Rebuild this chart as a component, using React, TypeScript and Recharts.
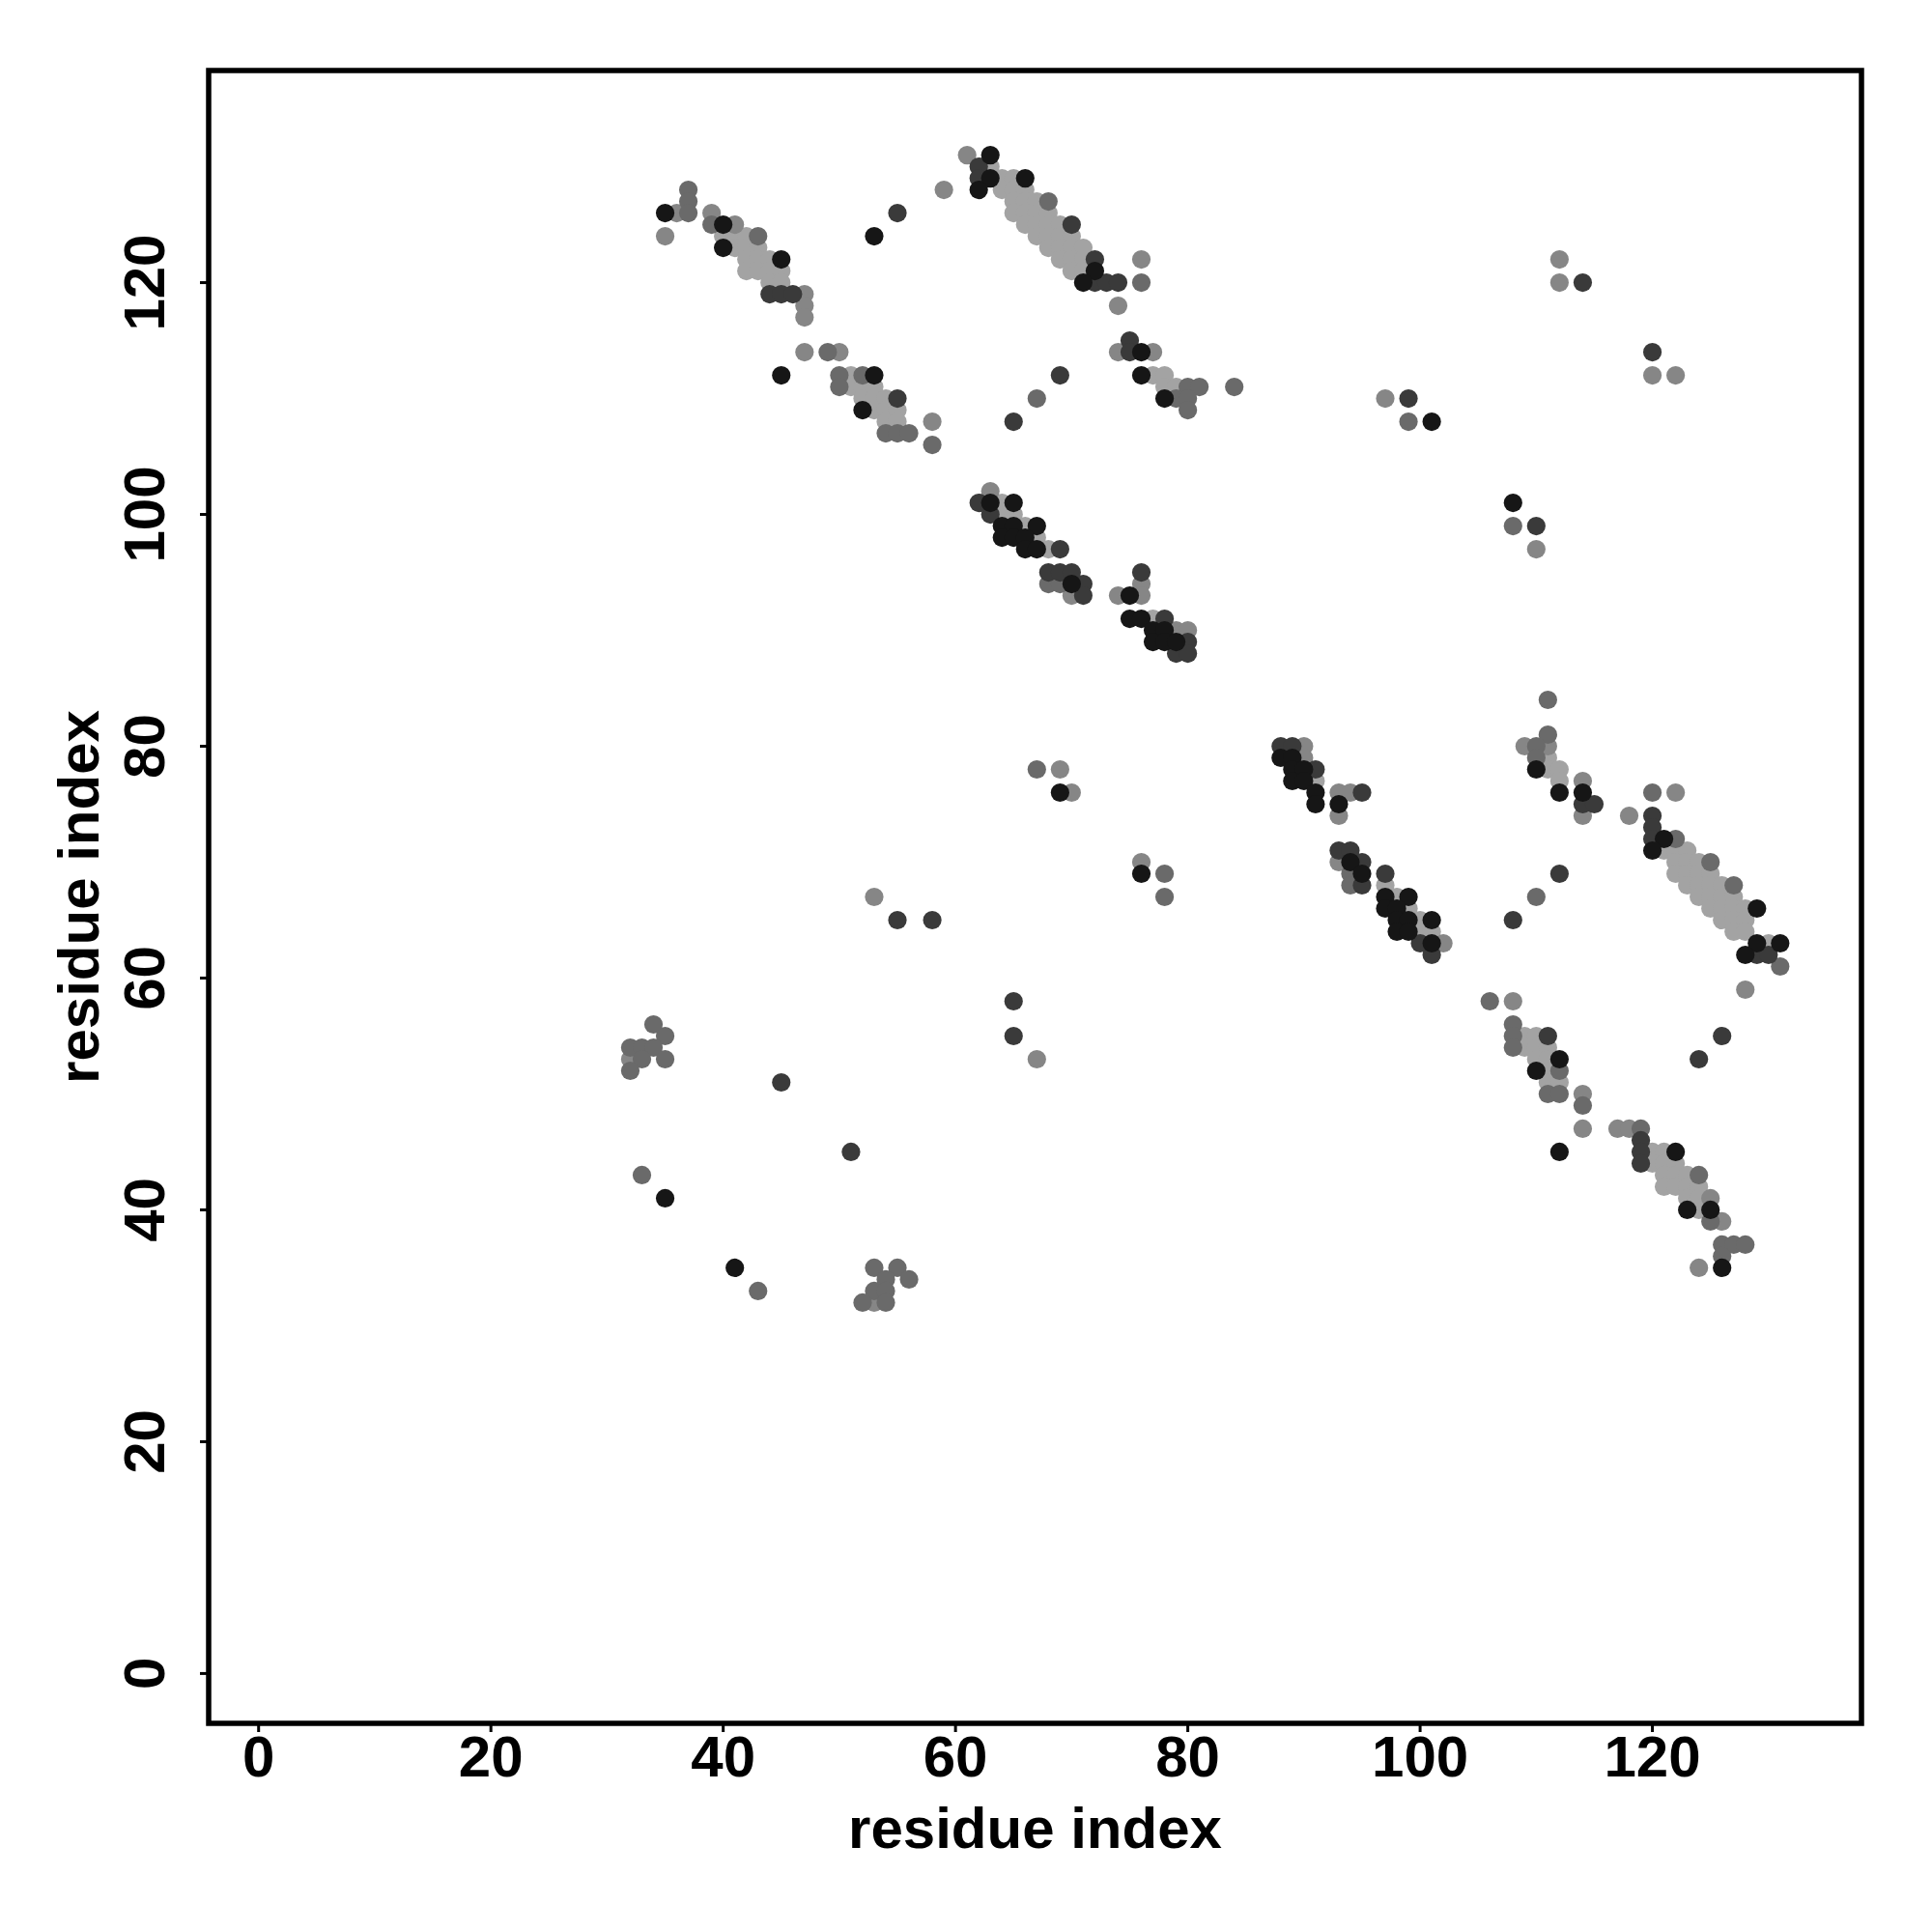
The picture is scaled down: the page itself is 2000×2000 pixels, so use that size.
import { ScatterChart, Scatter, XAxis, YAxis, Label, ReferenceArea } from 'recharts';

// contact pairs (residue i, residue j), grouped by the grey shade used in the plot
const palePairs: [number, number][] = [
  [40, 124], [41, 124], [42, 124], [41, 123], [42, 123], [43, 123], [42, 122], [43, 122], [44, 122],
  [42, 121], [43, 121], [44, 121], [45, 121], [44, 120], [45, 120],
  [51, 112], [51, 111], [52, 111], [53, 111], [52, 110], [53, 110], [54, 110], [53, 109], [54, 109],
  [55, 109], [54, 108], [55, 108],
  [63, 130], [64, 129], [65, 129], [64, 128], [65, 128], [66, 128], [65, 127], [66, 127], [67, 127],
  [65, 126], [66, 126], [67, 126], [68, 126], [66, 125], [67, 125], [68, 125], [69, 125],
  [67, 124], [68, 124], [69, 124], [70, 124], [68, 123], [69, 123], [70, 123], [71, 123],
  [69, 122], [70, 122], [71, 122], [70, 121], [71, 121],
  [77, 112], [78, 112], [78, 111], [79, 111],
  [64, 101], [64, 100], [65, 100], [66, 99], [67, 98], [68, 97], [77, 91],
  [91, 77], [97, 68], [98, 67], [99, 66], [100, 65], [100, 64], [101, 64],
  [111, 79], [111, 78], [112, 78], [112, 77],
  [121, 71], [122, 71], [123, 71], [122, 70], [123, 70], [124, 70], [122, 69], [123, 69], [124, 69],
  [125, 69], [123, 68], [124, 68], [125, 68], [126, 68], [124, 67], [125, 67], [126, 67], [127, 67],
  [125, 66], [126, 66], [127, 66], [128, 66], [126, 65], [127, 65], [128, 65], [127, 64], [128, 64],
  [130, 63],
  [109, 55], [110, 55], [109, 54], [110, 54], [111, 54], [110, 53], [111, 53], [111, 52], [111, 51],
  [112, 51],
  [120, 45], [121, 45], [120, 44], [121, 44], [122, 44], [121, 43], [122, 43], [123, 43],
  [121, 42], [122, 42], [123, 42], [124, 42], [123, 41], [124, 41], [124, 40],
];

const lightPairs: [number, number][] = [
  [61, 131], [59, 128], [36, 126], [35, 124], [39, 126], [41, 125], [47, 119], [47, 118], [47, 117],
  [47, 114], [50, 114], [58, 108],
  [76, 122], [74, 118], [74, 114], [77, 114],
  [63, 102], [70, 93], [76, 94], [76, 93], [74, 93], [79, 90], [80, 90],
  [90, 80], [90, 79], [93, 76], [94, 76], [93, 74], [93, 70], [102, 63],
  [109, 80], [111, 80], [114, 77], [114, 74], [122, 76], [118, 74], [128, 59], [108, 58],
  [114, 50], [114, 47], [117, 47], [118, 47], [125, 41], [126, 39], [124, 35],
  [53, 67], [32, 53], [53, 32],
  [112, 122], [112, 120], [120, 112], [122, 112], [97, 110], [110, 97],
  [69, 78], [70, 76], [76, 70], [67, 53],
];

const midPairs: [number, number][] = [
  [37, 128], [37, 127], [37, 126], [39, 125], [43, 124], [49, 114], [50, 112], [50, 111], [52, 112],
  [54, 107], [55, 107], [56, 107], [58, 106],
  [68, 127], [76, 120], [67, 110], [80, 111], [81, 111], [84, 111], [79, 110], [80, 110], [80, 109],
  [68, 94], [69, 94], [94, 69], [94, 68],
  [111, 84], [111, 81], [110, 80], [110, 79], [120, 76], [122, 72], [125, 70], [127, 68], [131, 61],
  [110, 67], [106, 58],
  [108, 56], [108, 55], [108, 54], [112, 52], [111, 50], [112, 50], [114, 49], [119, 47], [124, 43],
  [125, 39], [126, 37], [127, 37], [128, 37], [126, 36],
  [34, 56], [35, 55], [32, 54], [33, 54], [34, 54], [33, 53], [35, 53], [32, 52], [33, 43], [43, 33],
  [53, 35], [55, 35], [56, 34], [54, 34], [53, 33], [54, 33], [52, 32], [54, 32],
  [99, 108], [108, 99], [67, 78], [78, 69], [78, 67],
];

const darkPairs: [number, number][] = [
  [55, 126], [44, 119], [45, 119], [46, 119], [55, 110],
  [62, 130], [62, 129], [70, 125], [72, 122], [72, 120], [73, 120], [74, 120], [75, 115], [75, 114],
  [69, 112], [65, 108],
  [62, 101], [63, 100], [69, 97], [68, 95], [69, 95], [70, 95], [71, 94], [71, 93], [76, 95], [78, 91],
  [80, 89], [79, 88], [80, 88],
  [88, 80], [89, 80], [91, 78], [95, 76], [93, 71], [94, 71], [95, 70], [95, 68], [97, 69], [100, 63],
  [101, 62],
  [114, 75], [115, 75], [120, 74], [120, 73], [120, 72], [129, 62], [130, 62], [112, 69], [108, 65],
  [111, 55], [126, 55], [124, 53], [119, 46], [119, 45], [119, 44],
  [55, 65], [58, 65], [45, 51], [51, 45],
  [114, 120], [120, 114], [99, 110], [110, 99], [65, 58], [65, 55],
];

const blackPairs: [number, number][] = [
  [35, 126], [40, 125], [40, 123], [45, 122], [53, 124], [45, 112], [53, 112], [52, 109],
  [63, 131], [63, 129], [62, 128], [66, 129], [72, 121], [71, 120], [76, 114], [76, 112], [78, 110],
  [63, 101], [65, 101], [64, 99], [65, 99], [67, 99], [64, 98], [65, 98], [66, 98], [66, 97], [67, 97],
  [70, 94], [75, 93], [75, 91], [76, 91], [77, 90], [78, 90], [77, 89], [78, 89], [79, 89],
  [88, 79], [89, 79], [89, 78], [90, 78], [89, 77], [90, 77], [91, 76], [91, 75], [93, 75], [94, 70],
  [95, 69], [97, 67], [99, 67], [97, 66], [98, 66], [98, 65], [99, 65], [101, 65], [98, 64], [99, 64],
  [101, 63],
  [110, 78], [112, 76], [114, 76], [121, 72], [120, 71], [129, 66], [129, 63], [131, 63], [128, 62],
  [112, 53], [110, 52], [112, 45], [122, 45], [123, 40], [125, 40], [126, 35],
  [35, 41], [41, 35], [101, 108], [108, 101], [69, 76], [76, 69],
];

const axisTicks = [0, 20, 40, 60, 80, 100, 120];

const FONT = '"Liberation Sans", Arial, Helvetica, sans-serif';
const PLOT = { left: 216, top: 73, right: 1927, bottom: 1784 };

const toPoints = (pairs: [number, number][]) => pairs.map(([i, j]) => ({ i, j }));

const dot = (fill: string) => (p: any) => <circle cx={p.cx} cy={p.cy} r={9.6} fill={fill} />;

const XTick = (props: any) => (
  <text x={props.x} y={PLOT.bottom + 55} textAnchor="middle" fontSize={60} fontWeight="bold" fontFamily={FONT} fill="#000">
    {props.payload.value}
  </text>
);

const YTick = (props: any) => (
  <text
    transform={`translate(${PLOT.left - 46}, ${props.y}) rotate(-90)`}
    textAnchor="middle"
    fontSize={60}
    fontWeight="bold"
    fontFamily={FONT}
    fill="#000"
  >
    {props.payload.value}
  </text>
);

const XTitle = () => (
  <text x={(PLOT.left + PLOT.right) / 2} y={PLOT.bottom + 129} textAnchor="middle" fontSize={60} fontWeight="bold" fontFamily={FONT} fill="#000">
    residue index
  </text>
);

const YTitle = () => (
  <text
    transform={`translate(102, ${(PLOT.top + PLOT.bottom) / 2}) rotate(-90)`}
    textAnchor="middle"
    fontSize={60}
    fontWeight="bold"
    fontFamily={FONT}
    fill="#000"
  >
    residue index
  </text>
);

const series = [
  { name: 'pale', pairs: palePairs, color: '#a3a3a3' },
  { name: 'light', pairs: lightPairs, color: '#868686' },
  { name: 'mid', pairs: midPairs, color: '#6a6a6a' },
  { name: 'dark', pairs: darkPairs, color: '#3a3a3a' },
  { name: 'black', pairs: blackPairs, color: '#161616' },
];

const xDomain: [number, number] = [-4.3, 138.0];
const yDomain: [number, number] = [-4.3, 138.3];

export default function App() {
  return (
    <div style={{ position: 'absolute', left: 0, top: 0, background: '#fff' }}>
      <ScatterChart
        width={2000}
        height={2000}
        margin={{ top: PLOT.top, right: 2000 - PLOT.right, left: PLOT.left - 200, bottom: 2000 - PLOT.bottom - 200 }}
      >
        <XAxis
          type="number"
          dataKey="i"
          domain={xDomain}
          allowDataOverflow
          ticks={axisTicks}
          height={200}
          tick={<XTick />}
          tickSize={9}
          tickLine={{ stroke: '#000', strokeWidth: 3 }}
          axisLine={false}
        >
          <Label content={<XTitle />} />
        </XAxis>
        <YAxis
          type="number"
          dataKey="j"
          domain={yDomain}
          allowDataOverflow
          ticks={axisTicks}
          width={200}
          tick={<YTick />}
          tickSize={9}
          tickLine={{ stroke: '#000', strokeWidth: 3 }}
          axisLine={false}
        >
          <Label content={<YTitle />} />
        </YAxis>
        {series.map((s) => (
          <Scatter key={s.name} name={s.name} data={toPoints(s.pairs)} shape={dot(s.color)} isAnimationActive={false} />
        ))}
        <ReferenceArea
          x1={xDomain[0]}
          x2={xDomain[1]}
          y1={yDomain[0]}
          y2={yDomain[1]}
          ifOverflow="visible"
          fill="none"
          fillOpacity={0}
          stroke="#000"
          strokeWidth={5.5}
        />
      </ScatterChart>
    </div>
  );
}
